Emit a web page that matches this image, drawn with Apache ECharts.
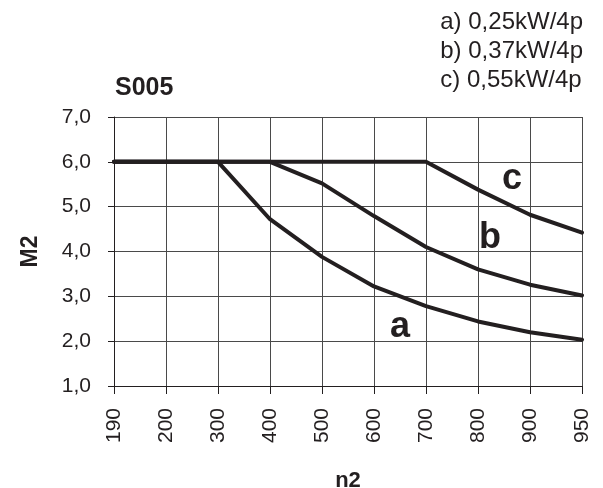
<!DOCTYPE html>
<html>
<head>
<meta charset="utf-8">
<script src="https://cdn.jsdelivr.net/npm/echarts@6/dist/echarts.min.js"></script>
<style>
  html, body { margin: 0; padding: 0; background: #fff; }
  #chart { width: 603px; height: 488px; }
</style>
</head>
<body>
<div id="chart"></div>
<script>
var speeds = ['190', '200', '300', '400', '500', '600', '700', '800', '900', '950'];
var curveA = [6.0, 6.0, 6.0, 4.72, 3.88, 3.22, 2.78, 2.44, 2.2, 2.03];
var curveB = [6.0, 6.0, 6.0, 6.0, 5.52, 4.79, 4.1, 3.6, 3.26, 3.02];
var curveC = [6.0, 6.0, 6.0, 6.0, 6.0, 6.0, 6.0, 5.38, 4.82, 4.42];
var legendLines = ['a) 0,25kW/4p', 'b) 0,37kW/4p', 'c) 0,55kW/4p'];

var font = '"Liberation Sans", Arial, sans-serif';
var ink = '#231f20';

// put the curve letter next to one point of each line
function withTag(values, idx, tag, offset) {
  return values.map(function (v, i) {
    if (i !== idx) return v;
    return {
      value: v,
      label: {
        show: true, formatter: tag, offset: offset, position: 'inside',
        fontSize: 36, fontWeight: 'bold', fontFamily: font, color: ink
      }
    };
  });
}

function line(name, data) {
  return {
    name: name, type: 'line', data: data,
    symbol: 'circle', symbolSize: 0, showSymbol: true, showAllSymbol: true,
    silent: true,
    itemStyle: { color: ink },
    lineStyle: { color: ink, width: 4, join: 'round', cap: 'round' },
    label: { show: false }
  };
}

var chart = echarts.init(document.getElementById('chart'));
chart.setOption({
  animation: false,
  backgroundColor: '#fff',
  title: {
    text: 'S005', left: 110, top: 71,
    textStyle: { fontSize: 25, fontWeight: 'bold', fontFamily: font, color: ink }
  },
  graphic: [{
    type: 'text', right: 20, top: 8,
    style: {
      text: legendLines.join('\n'), align: 'right',
      font: '24px "Liberation Sans", Arial, sans-serif',
      lineHeight: 29, fill: ink
    }
  }],
  grid: { left: 114, right: 21, top: 117, bottom: 102, outerBoundsMode: 'none' },
  xAxis: {
    type: 'category', data: speeds, boundaryGap: false,
    name: 'n2', nameLocation: 'middle', nameGap: 84,
    nameTextStyle: { fontSize: 22, fontWeight: 'bold', fontFamily: font, color: ink },
    axisLine: { lineStyle: { color: ink, width: 1 } },
    axisTick: { show: true, length: 8, inside: false, lineStyle: { color: ink } },
    axisLabel: { rotate: 90, margin: 22, fontSize: 21, fontFamily: font, color: ink },
    splitLine: { show: true, lineStyle: { color: '#4a4a4a', width: 1 } }
  },
  yAxis: {
    type: 'value', min: 1, max: 7, interval: 1,
    name: 'M2', nameLocation: 'middle', nameGap: 72, nameRotate: 90,
    nameTextStyle: { fontSize: 23, fontWeight: 'bold', fontFamily: font, color: ink },
    axisLine: { show: true, lineStyle: { color: ink, width: 1 } },
    axisTick: { show: true, length: 6, lineStyle: { color: ink } },
    axisLabel: {
      margin: 23, fontSize: 21, fontFamily: font, color: ink,
      formatter: function (v) { return v.toFixed(1).replace('.', ','); }
    },
    splitLine: { show: true, lineStyle: { color: '#4a4a4a', width: 1 } }
  },
  series: [
    line('a', withTag(curveA, 5, 'a', [26, 41])),
    line('b', withTag(curveB, 7, 'b', [12, -31])),
    line('c', withTag(curveC, 7, 'c', [34, -11]))
  ]
});
</script>
</body>
</html>
